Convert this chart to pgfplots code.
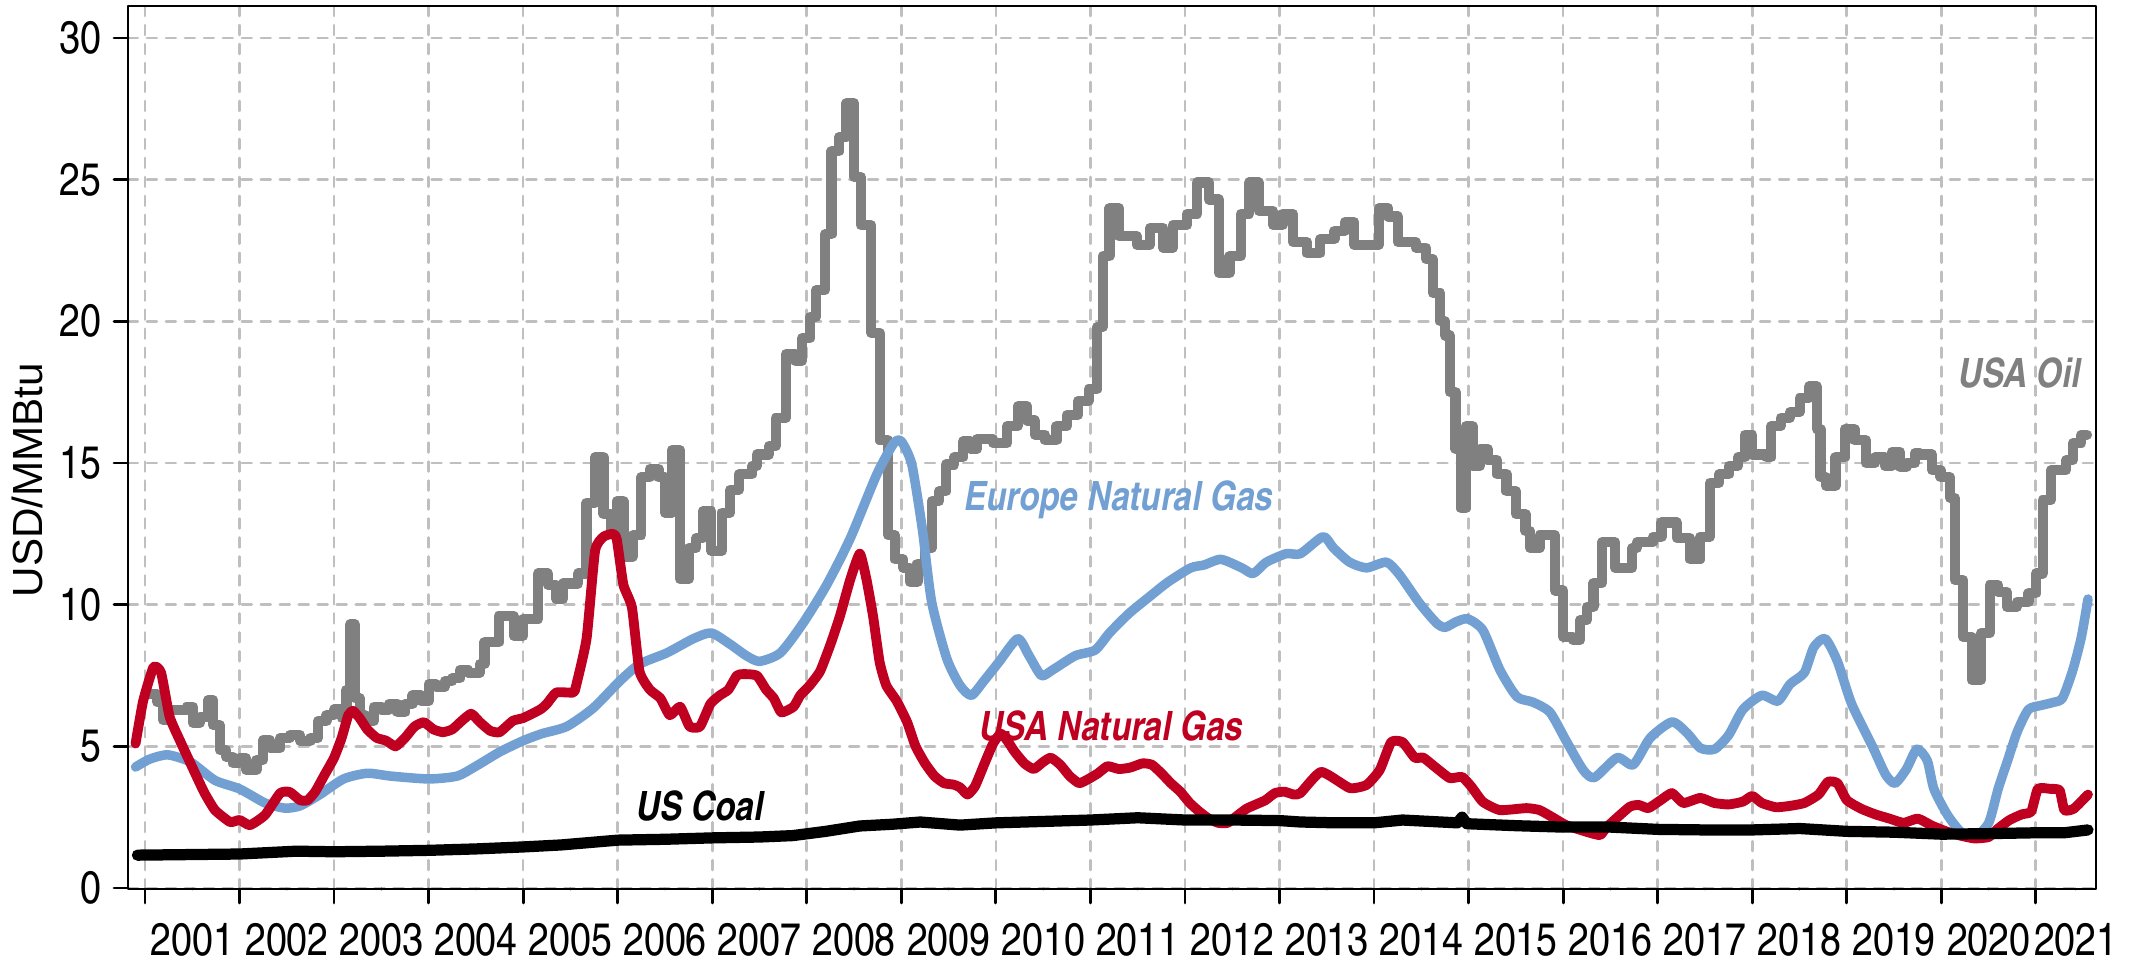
\documentclass[border=0pt]{standalone}
\usepackage{pgfplots}
\pgfplotsset{compat=1.18}
\usepackage{fontspec}
\setmainfont{texgyreheroscn}[Extension=.otf, UprightFont=*-regular, ItalicFont=*-italic, BoldFont=*-bold, BoldItalicFont=*-bolditalic]
\newfontfamily\ylabfont{Liberation Sans}

\definecolor{oilgray}{RGB}{128,128,128}
\definecolor{eublue}{RGB}{114,160,210}
\definecolor{usred}{RGB}{192,0,32}

% USD/MMBtu, x in decimal years
\pgfplotstableread{
x y
2001.02 6.85
2001.13 6.56
2001.19 5.93
2001.24 6.28
2001.44 6.40
2001.51 5.82
2001.58 6.05
2001.67 6.64
2001.72 5.75
2001.79 4.87
2001.86 4.63
2001.93 4.40
2002.00 4.58
2002.07 4.17
2002.18 4.52
2002.25 5.22
2002.32 4.93
2002.43 5.30
2002.53 5.40
2002.64 5.20
2002.75 5.30
2002.83 5.90
2002.92 6.10
2003.00 6.30
2003.08 6.00
2003.13 7.00
2003.17 9.30
2003.22 6.70
2003.27 6.10
2003.33 5.90
2003.42 6.40
2003.50 6.30
2003.58 6.50
2003.67 6.20
2003.75 6.50
2003.83 6.80
2003.92 6.60
2004.00 7.20
2004.08 7.10
2004.17 7.30
2004.25 7.40
2004.33 7.70
2004.42 7.60
2004.54 7.90
2004.59 8.67
2004.74 9.60
2004.90 8.90
2005.00 9.50
2005.16 11.10
2005.26 10.70
2005.35 10.20
2005.42 10.75
2005.58 11.10
2005.67 13.60
2005.76 15.20
2005.85 13.20
2005.93 12.50
2005.99 13.65
2006.06 11.70
2006.16 12.45
2006.25 14.50
2006.34 14.80
2006.43 14.50
2006.50 13.25
2006.57 15.45
2006.66 10.90
2006.75 12.00
2006.83 12.35
2006.90 13.30
2006.99 11.90
2007.10 13.25
2007.19 14.06
2007.28 14.60
2007.42 14.90
2007.47 15.30
2007.60 15.60
2007.67 16.60
2007.78 18.85
2007.88 18.60
2007.95 19.40
2008.03 20.15
2008.10 21.10
2008.19 23.07
2008.26 26.00
2008.34 26.50
2008.42 27.70
2008.50 25.10
2008.57 23.40
2008.68 19.60
2008.77 15.80
2008.86 12.45
2008.93 11.60
2009.02 11.30
2009.09 10.80
2009.17 11.45
2009.25 12.00
2009.32 13.65
2009.40 14.00
2009.47 14.95
2009.56 15.20
2009.65 15.76
2009.73 15.50
2009.80 15.85
2009.97 15.70
2010.12 16.30
2010.23 17.00
2010.33 16.50
2010.41 16.00
2010.52 15.80
2010.64 16.30
2010.75 16.70
2010.87 17.20
2010.98 17.60
2011.07 19.80
2011.13 22.30
2011.20 24.00
2011.30 23.00
2011.49 22.70
2011.63 23.30
2011.77 22.60
2011.87 23.40
2012.02 23.80
2012.13 24.90
2012.25 24.30
2012.36 21.70
2012.47 22.30
2012.59 23.80
2012.68 24.90
2012.78 23.90
2012.93 23.40
2013.03 23.80
2013.14 22.80
2013.29 22.40
2013.43 22.90
2013.58 23.20
2013.69 23.50
2013.79 22.70
2014.05 24.00
2014.15 23.70
2014.25 22.80
2014.44 22.60
2014.55 22.20
2014.62 21.00
2014.70 20.00
2014.75 19.50
2014.80 17.50
2014.86 15.50
2014.92 13.40
2014.97 16.30
2015.04 14.90
2015.12 15.50
2015.20 15.10
2015.30 14.60
2015.40 14.00
2015.50 13.20
2015.60 12.60
2015.65 12.00
2015.75 12.46
2015.91 10.50
2016.00 8.86
2016.10 8.75
2016.18 9.46
2016.25 9.93
2016.32 10.76
2016.41 12.20
2016.55 11.30
2016.73 12.00
2016.78 12.20
2016.95 12.40
2017.04 12.90
2017.20 12.35
2017.34 11.60
2017.45 12.40
2017.55 14.30
2017.65 14.60
2017.75 14.90
2017.85 15.20
2017.92 16.00
2018.00 15.30
2018.15 15.20
2018.20 16.30
2018.30 16.60
2018.40 16.80
2018.50 17.30
2018.60 17.70
2018.68 16.20
2018.72 14.50
2018.78 14.20
2018.88 15.20
2018.98 16.20
2019.08 15.80
2019.20 15.00
2019.30 15.20
2019.40 14.90
2019.48 15.40
2019.56 14.86
2019.63 15.00
2019.72 15.35
2019.77 15.30
2019.90 14.75
2019.99 14.50
2020.09 13.77
2020.14 10.87
2020.23 8.86
2020.32 7.34
2020.42 9.00
2020.51 10.70
2020.60 10.45
2020.69 9.92
2020.80 10.10
2020.92 10.40
2021.00 11.10
2021.07 13.70
2021.16 14.75
2021.32 15.10
2021.39 15.70
2021.48 16.00
2021.54 16.00
}\oil

\pgfplotstableread{
x y
2000.90 4.27
2001.05 4.55
2001.24 4.70
2001.48 4.45
2001.74 3.80
2002.00 3.50
2002.27 3.00
2002.48 2.82
2002.64 2.90
2002.85 3.30
2003.10 3.85
2003.35 4.05
2003.60 3.95
2004.00 3.85
2004.30 3.95
2004.50 4.30
2004.75 4.80
2005.00 5.20
2005.20 5.45
2005.46 5.70
2005.74 6.35
2006.02 7.30
2006.23 7.90
2006.52 8.30
2006.80 8.80
2006.99 9.00
2007.19 8.60
2007.36 8.20
2007.50 8.00
2007.72 8.30
2007.96 9.35
2008.21 10.70
2008.46 12.35
2008.74 14.60
2008.92 15.70
2009.00 15.76
2009.11 14.95
2009.22 12.70
2009.32 10.10
2009.48 8.10
2009.62 7.15
2009.74 6.80
2009.87 7.30
2010.03 7.97
2010.23 8.80
2010.35 8.20
2010.48 7.50
2010.60 7.70
2010.84 8.20
2011.05 8.40
2011.20 9.00
2011.41 9.70
2011.63 10.30
2011.82 10.80
2012.06 11.30
2012.20 11.40
2012.38 11.60
2012.60 11.30
2012.72 11.10
2012.86 11.50
2013.07 11.80
2013.22 11.80
2013.46 12.40
2013.57 12.00
2013.74 11.50
2013.92 11.30
2014.13 11.50
2014.27 11.05
2014.48 10.05
2014.66 9.35
2014.75 9.20
2014.87 9.40
2014.99 9.50
2015.15 9.10
2015.33 7.70
2015.51 6.75
2015.68 6.56
2015.86 6.20
2016.03 5.20
2016.21 4.17
2016.33 3.90
2016.57 4.60
2016.74 4.35
2016.92 5.30
2017.15 5.86
2017.31 5.47
2017.45 4.94
2017.60 4.90
2017.75 5.40
2017.90 6.30
2018.10 6.80
2018.27 6.60
2018.40 7.20
2018.55 7.60
2018.65 8.50
2018.77 8.80
2018.90 8.00
2019.05 6.50
2019.27 5.00
2019.41 4.00
2019.51 3.70
2019.63 4.20
2019.74 4.90
2019.85 4.50
2019.92 3.50
2020.06 2.60
2020.20 2.00
2020.35 1.80
2020.50 2.30
2020.60 3.50
2020.70 4.50
2020.80 5.50
2020.92 6.30
2021.06 6.45
2021.18 6.55
2021.28 6.70
2021.39 7.70
2021.48 8.86
2021.55 10.20
}\eugas

\pgfplotstableread{
x y
2000.90 5.10
2000.98 6.60
2001.09 7.80
2001.17 7.60
2001.26 6.05
2001.37 5.20
2001.53 4.05
2001.63 3.35
2001.74 2.75
2001.90 2.33
2002.00 2.40
2002.11 2.22
2002.27 2.58
2002.43 3.35
2002.53 3.39
2002.64 3.10
2002.72 3.10
2002.80 3.40
2002.90 4.00
2003.00 4.60
2003.08 5.30
2003.15 6.10
2003.20 6.25
2003.27 6.00
2003.35 5.60
2003.45 5.30
2003.55 5.20
2003.65 5.00
2003.75 5.30
2003.85 5.70
2003.95 5.85
2004.05 5.60
2004.15 5.50
2004.25 5.60
2004.35 5.90
2004.45 6.15
2004.54 5.86
2004.65 5.55
2004.75 5.50
2004.89 5.90
2005.00 6.00
2005.18 6.30
2005.25 6.50
2005.35 6.90
2005.53 6.90
2005.56 7.15
2005.67 8.80
2005.76 11.90
2005.85 12.40
2005.95 12.50
2005.99 12.30
2006.06 10.70
2006.15 9.90
2006.23 7.65
2006.34 7.00
2006.45 6.70
2006.55 6.10
2006.66 6.40
2006.76 5.70
2006.87 5.70
2006.98 6.50
2007.08 6.80
2007.17 7.00
2007.26 7.50
2007.33 7.55
2007.47 7.50
2007.57 7.00
2007.65 6.70
2007.73 6.20
2007.86 6.40
2007.93 6.80
2008.03 7.15
2008.14 7.65
2008.25 8.60
2008.35 9.60
2008.46 10.90
2008.56 11.80
2008.63 10.90
2008.70 9.60
2008.77 7.97
2008.84 7.15
2008.95 6.60
2009.06 5.86
2009.15 5.00
2009.25 4.40
2009.35 3.95
2009.45 3.70
2009.55 3.65
2009.62 3.55
2009.70 3.30
2009.78 3.60
2009.88 4.40
2009.97 5.10
2010.05 5.45
2010.12 5.20
2010.20 4.80
2010.30 4.40
2010.40 4.20
2010.50 4.45
2010.58 4.60
2010.68 4.35
2010.78 3.95
2010.88 3.70
2010.98 3.85
2011.08 4.05
2011.18 4.30
2011.30 4.20
2011.42 4.25
2011.55 4.40
2011.65 4.35
2011.75 4.05
2011.85 3.70
2011.95 3.40
2012.05 3.00
2012.15 2.70
2012.25 2.45
2012.35 2.30
2012.45 2.30
2012.55 2.55
2012.65 2.80
2012.75 2.95
2012.85 3.10
2012.95 3.35
2013.05 3.40
2013.15 3.30
2013.22 3.35
2013.44 4.10
2013.74 3.53
2013.92 3.64
2014.06 4.17
2014.18 5.15
2014.30 5.15
2014.43 4.60
2014.52 4.60
2014.66 4.23
2014.80 3.88
2014.93 3.92
2015.03 3.57
2015.15 3.04
2015.33 2.75
2015.61 2.82
2015.75 2.75
2015.90 2.47
2016.03 2.22
2016.25 1.98
2016.39 1.87
2016.46 2.15
2016.70 2.86
2016.80 2.93
2016.90 2.82
2017.03 3.10
2017.15 3.35
2017.27 3.00
2017.45 3.18
2017.60 3.00
2017.75 2.95
2017.90 3.05
2018.00 3.25
2018.10 3.00
2018.25 2.85
2018.40 2.90
2018.55 3.00
2018.70 3.30
2018.80 3.75
2018.90 3.70
2019.00 3.10
2019.15 2.80
2019.30 2.60
2019.45 2.45
2019.60 2.30
2019.75 2.45
2019.90 2.20
2020.05 2.00
2020.20 1.85
2020.35 1.75
2020.50 1.80
2020.60 2.10
2020.72 2.40
2020.85 2.60
2020.95 2.70
2021.02 3.50
2021.15 3.50
2021.25 3.45
2021.30 2.75
2021.40 2.80
2021.55 3.30
}\usgas

\pgfplotstableread{
x y
2000.92 1.16
2002.00 1.20
2002.60 1.30
2003.00 1.28
2003.50 1.30
2004.00 1.33
2004.50 1.38
2005.00 1.45
2005.40 1.52
2006.00 1.69
2006.50 1.72
2007.00 1.77
2007.50 1.80
2007.85 1.85
2008.20 2.00
2008.56 2.19
2008.90 2.25
2009.20 2.33
2009.62 2.22
2010.00 2.30
2010.50 2.35
2011.00 2.40
2011.50 2.48
2012.00 2.40
2012.50 2.40
2013.00 2.38
2013.22 2.33
2013.60 2.30
2014.00 2.30
2014.30 2.40
2014.88 2.30
2014.93 2.50
2014.98 2.27
2015.50 2.20
2016.00 2.15
2016.50 2.15
2017.00 2.07
2017.50 2.05
2018.00 2.05
2018.50 2.10
2019.00 2.00
2019.50 1.97
2020.00 1.90
2020.50 1.92
2021.00 1.95
2021.30 1.95
2021.55 2.05
}\uscoal

\begin{document}
\begin{tikzpicture}
\path[use as bounding box] (-1.28,-0.77) rectangle (20.06,8.89);
\begin{axis}[
    at={(0,0)}, anchor=south west,
    scale only axis,
    width=19.68cm, height=8.83cm,
    xmin=2000.82, xmax=2021.635,
    ymin=-0.035, ymax=31.13,
    xtick={2001,2002,...,2021},
    xticklabels={},
    extra x ticks={2001.5,2002.5,2003.5,2004.5,2005.5,2006.5,2007.5,2008.5,2009.5,2010.5,2011.5,2012.5,2013.5,2014.5,2015.5,2016.5,2017.5,2018.5,2019.5,2020.5,2021.42},
    extra x tick labels={2001,2002,2003,2004,2005,2006,2007,2008,2009,2010,2011,2012,2013,2014,2015,2016,2017,2018,2019,2020,2021},
    extra x tick style={grid=none, major tick length=0pt, xticklabel style={yshift=-0.22cm}},
    ytick={0,5,...,30},
    xtick pos=bottom, ytick pos=left,
    tick align=outside,
    major tick length=0.14cm,
    every tick/.style={black, line width=0.8pt},
    axis line style={line width=0.8pt},
    grid=major,
    major grid style={black!25, line width=0.75pt, dash pattern=on 2.8pt off 2.6pt},
    tick label style={font=\fontsize{13}{15}\selectfont},
    /pgf/number format/assume math mode=true,
    ylabel={\ylabfont USD/MMBtu},
    ylabel style={at={(axis description cs:-0.0513,0.463)}, anchor=center, font=\fontsize{12}{14}\selectfont},
    line join=round, line cap=round,
]
\addplot[const plot, oilgray, line width=2.9pt] table[x=x,y=y] {\oil};
\addplot[smooth, tension=0.4, eublue, line width=2.7pt] table[x=x,y=y] {\eugas};
\addplot[smooth, tension=0.3, usred, line width=2.8pt] table[x=x,y=y] {\usgas};
\addplot[black, line width=3.2pt] table[x=x,y=y] {\uscoal};

\node[oilgray, font=\fontsize{11.5}{13}\selectfont\bfseries\itshape] at (axis cs:2020.83,18.18) {USA Oil};
\node[eublue, font=\fontsize{11.5}{13}\selectfont\bfseries\itshape] at (axis cs:2011.30,13.7) {Europe Natural Gas};
\node[usred, font=\fontsize{11.5}{13}\selectfont\bfseries\itshape] at (axis cs:2011.22,5.72) {USA Natural Gas};
\node[black, font=\fontsize{11.5}{13}\selectfont\bfseries\itshape] at (axis cs:2006.87,2.9) {US Coal};
\end{axis}
\end{tikzpicture}
\end{document}
